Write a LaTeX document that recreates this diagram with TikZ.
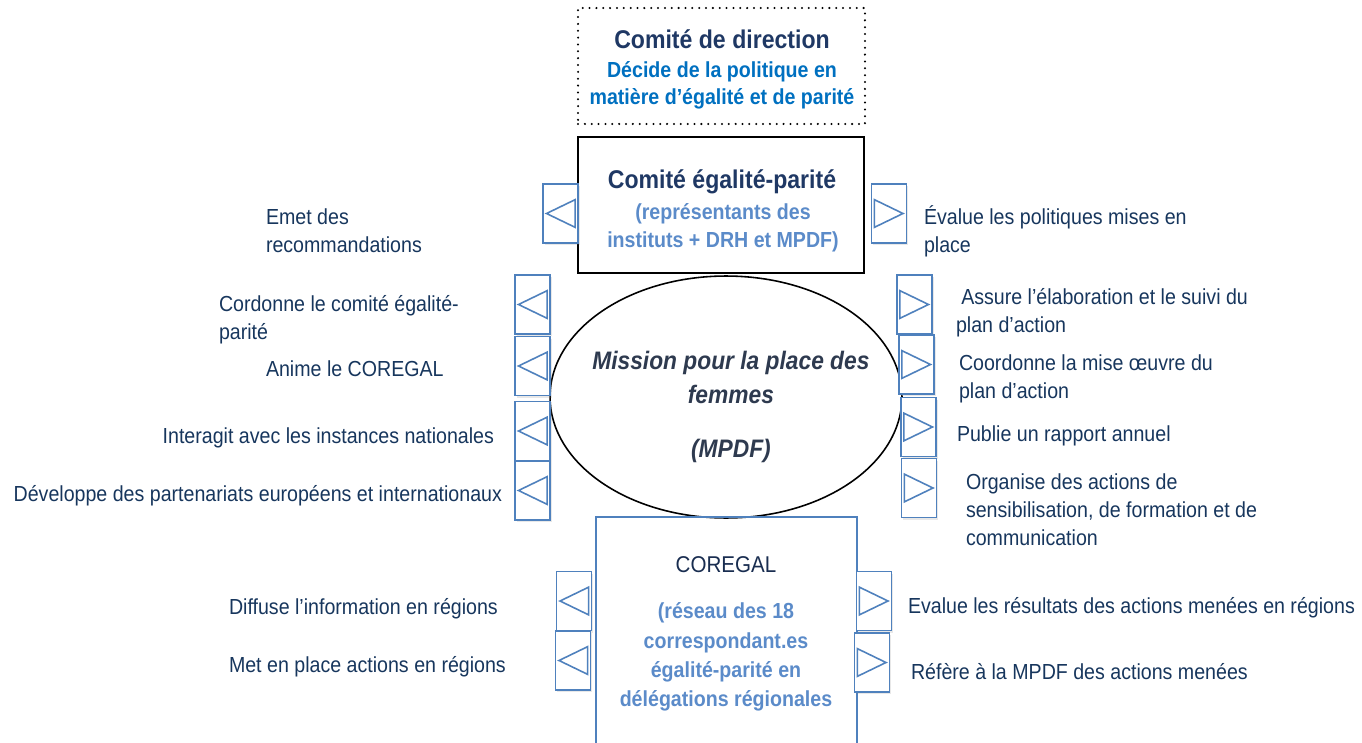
\documentclass[tikz,border=0pt]{standalone}
\usepackage{fontspec}
\setmainfont{Liberation Sans}[FakeStretch=0.9]
\usetikzlibrary{positioning,shapes.geometric,shadows}
\usepackage{xcolor}
\definecolor{navy}{HTML}{1F3864}
\definecolor{bodynavy}{HTML}{17365D}
\definecolor{deepblue}{HTML}{0070C0}
\definecolor{softblue}{HTML}{5B8BC9}
\definecolor{frameblue}{HTML}{4F81BD}
\definecolor{missiongrey}{HTML}{2E3A4F}

\begin{document}
\begin{tikzpicture}[
    x=0.02cm, y=-0.02cm,
    every node/.style={inner sep=0pt, outer sep=0pt},
    sidetext/.style={text=bodynavy, align=left, font=\fontsize{12.4pt}{15.9pt}\selectfont}, % side texts
    boxtitle/.style={text=navy, font=\bfseries\fontsize{14.6pt}{17.6pt}\selectfont},
    boxsub/.style={align=center, font=\bfseries\fontsize{12.4pt}{15.6pt}\selectfont},
    direction/.style={draw, line width=1.3pt, dash pattern=on 0pt off 3.9pt, line cap=round, minimum width=5.74cm, minimum height=2.32cm}, % Comite de direction
    parity/.style={draw, line width=1.2pt, minimum width=5.72cm, minimum height=2.72cm}, % Comite egalite-parite
    mission/.style={draw, ellipse, line width=0.9pt, minimum width=7.04cm, minimum height=4.84cm},
    network/.style={minimum width=5.22cm, minimum height=4.6cm}, % COREGAL
    arrowbox/.style={draw=frameblue, line width=0.9pt, fill=white, minimum width=0.7cm, minimum height=1.18cm,
        drop shadow={opacity=0.18, shadow xshift=1pt, shadow yshift=-1.2pt}},
    larrow/.style={arrowbox, path picture={
        \draw[frameblue, line width=0.9pt, line join=miter] ([xshift=2pt]path picture bounding box.west)
        -- ([xshift=-1.6pt, yshift=7.9pt]path picture bounding box.east)
        -- ([xshift=-1.6pt, yshift=-7.9pt]path picture bounding box.east) -- cycle;}},
    rarrow/.style={arrowbox, path picture={
        \draw[frameblue, line width=0.9pt, line join=miter] ([xshift=-2pt]path picture bounding box.east)
        -- ([xshift=1.6pt, yshift=7.9pt]path picture bounding box.west)
        -- ([xshift=1.6pt, yshift=-7.9pt]path picture bounding box.west) -- cycle;}}
]
\useasboundingbox (0,0) rectangle (1362,743);

% central structures
\node[direction] (direction) at (721.5,66) {};
\node[boxtitle] (directiontitle) at (722,39) {Comité de direction};
\node[boxsub, text=deepblue] (directionsub) at (722,85.5) {Décide de la politique en\\matière d’égalité et de parité};

\node[parity] (parity) at (721,205) {};
\node[boxtitle] (paritytitle) at (722,182) {Comité égalité-parité};
\node[boxsub, text=softblue, font=\bfseries\fontsize{12.4pt}{15.9pt}\selectfont] (paritysub) at (723,228) {(représentants des\\instituts + DRH et MPDF)};

\node[mission] (mission) at (726,397) {};
\node[align=center, text=missiongrey, font=\bfseries\itshape\fontsize{14.4pt}{19.3pt}\selectfont]
    (missiontext) at ([xshift=2.8pt, yshift=-5.7pt]mission.center) {Mission pour la place des\\femmes\\[11.3pt](MPDF)};

\node[network] (coregal) at (726.5,632) {};
\draw[frameblue, line width=0.9pt] (coregal.south west) -- (coregal.north west) -- (coregal.north east) -- (coregal.south east);
\node[text=navy!80!black, font=\fontsize{13pt}{16pt}\selectfont] (coregaltitle) at (726,565) {COREGAL};
\node[boxsub, text=softblue, font=\bfseries\fontsize{12.4pt}{16.6pt}\selectfont]
    (coregaltext) at (726,657) {(réseau des 18\\correspondant.es\\égalité-parité en\\délégations régionales};

% arrow boxes
\node[larrow] (recommend) at (560.5,213.5) {};
\node[rarrow] (evaluate) at (889,213.5) {};
\node[larrow] (coordinate) at (532.5,304.5) {};
\node[larrow] (animate) at (532.5,366) {};
\node[larrow] (interact) at (532.5,431) {};
\node[larrow] (develop) at (532.5,490.5) {};
\node[rarrow] (design) at (914.5,304.5) {};
\node[rarrow] (implement) at (916.5,364.5) {};
\node[rarrow] (publish) at (918.5,427) {};
\node[rarrow] (organise) at (919,488) {};
\node[larrow] (spread) at (574,601) {};
\node[larrow] (setup) at (573,660.5) {};
\node[rarrow] (assess) at (874,601) {};
\node[rarrow] (report) at (872,662.5) {};

% side texts
\node[sidetext, anchor=west] (recommendtext) at (266,231) {Emet des\\recommandations};
\node[sidetext, anchor=west] (evaluatetext) at (924,231) {Évalue les politiques mises en\\place};
\node[sidetext, anchor=west] (coordinatetext) at (219,320) {Cordonne le comité égalité-\\parité};
\node[sidetext, anchor=west] (animatetext) at (266,369) {Anime le COREGAL};
\node[sidetext, anchor=east] (interacttext) at (494,438) {Interagit avec les instances nationales};
\node[sidetext, anchor=east] (developtext) at (502,496) {Développe des partenariats européens et internationaux};
\node[sidetext, anchor=west] (designtext) at (956,313) {\hspace*{3pt}Assure l’élaboration et le suivi du\\plan d’action};
\node[sidetext, anchor=west] (implementtext) at (959,379) {Coordonne la mise œuvre du\\plan d’action};
\node[sidetext, anchor=west] (publishtext) at (957,436) {Publie un rapport annuel};
\node[sidetext, anchor=west] (organisetext) at (966,510) {Organise des actions de\\sensibilisation, de formation et de\\communication};
\node[sidetext, anchor=west] (spreadtext) at (229,609) {Diffuse l’information en régions};
\node[sidetext, anchor=west] (setuptext) at (229,667) {Met en place actions en régions};
\node[sidetext, anchor=west] (assesstext) at (908,608) {Evalue les résultats des actions menées en régions};
\node[sidetext, anchor=west] (reporttext) at (911,672) {Réfère à la MPDF des actions menées};
\end{tikzpicture}
\end{document}
